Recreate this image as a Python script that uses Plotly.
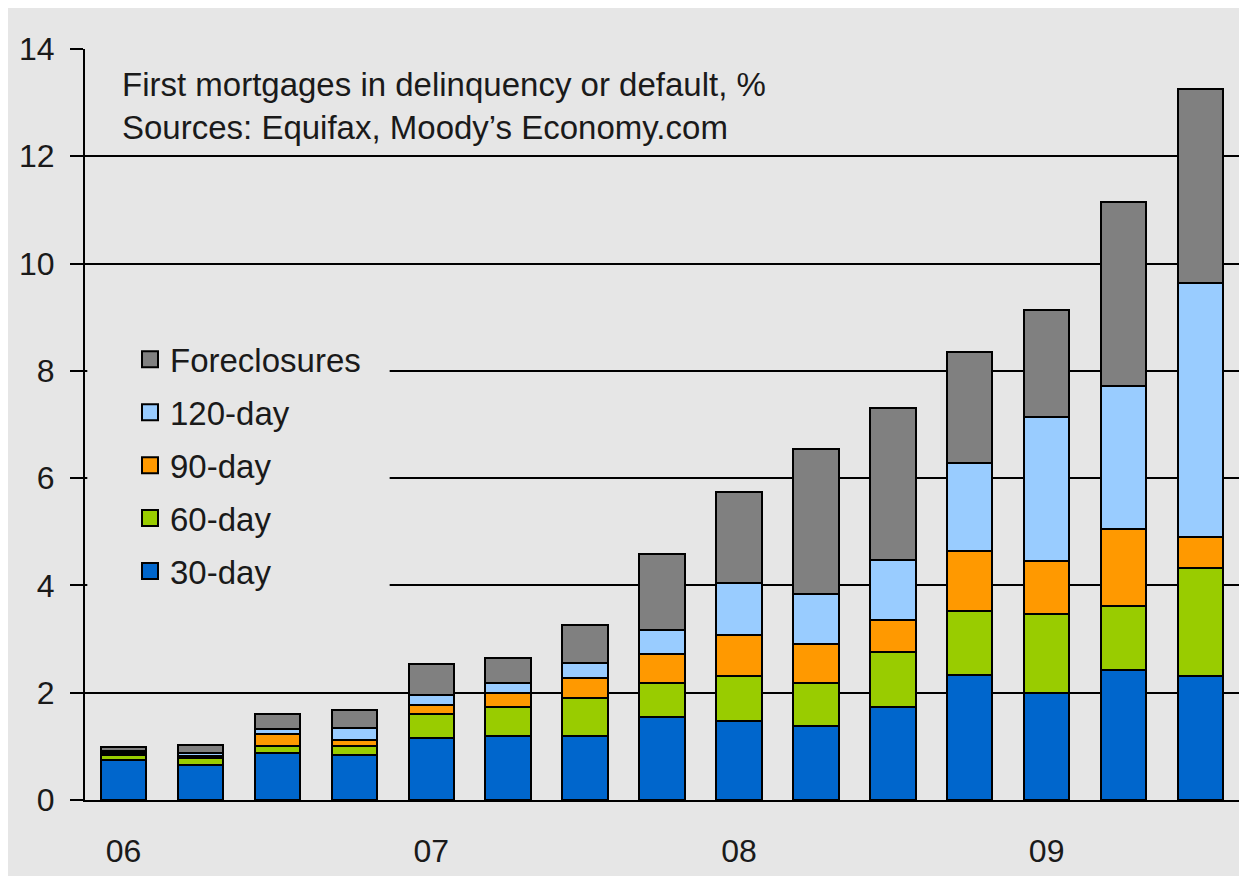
import plotly.graph_objects as go

quarters = ["06Q1", "06Q2", "06Q3", "06Q4", "07Q1", "07Q2", "07Q3", "07Q4",
            "08Q1", "08Q2", "08Q3", "08Q4", "09Q1", "09Q2", "09Q3"]
tick_vals = ["06Q1", "07Q1", "08Q1", "09Q1"]
tick_text = ["06", "07", "08", "09"]

day30 = [0.75, 0.66, 0.88, 0.84, 1.15, 1.19, 1.19, 1.55, 1.47, 1.38, 1.74, 2.33, 2.00, 2.42, 2.31]
day60 = [0.09, 0.13, 0.125, 0.17, 0.45, 0.55, 0.72, 0.635, 0.84, 0.805, 1.02, 1.195, 1.47, 1.20, 2.015]
day90 = [0.04, 0.03, 0.225, 0.10, 0.18, 0.26, 0.37, 0.535, 0.76, 0.715, 0.59, 1.115, 0.99, 1.43, 0.58]
day120 = [0.03, 0.06, 0.09, 0.23, 0.17, 0.185, 0.265, 0.445, 0.98, 0.94, 1.12, 1.64, 2.68, 2.66, 4.725]
foreclosures = [0.08, 0.14, 0.29, 0.33, 0.59, 0.455, 0.715, 1.425, 1.69, 2.71, 2.84, 2.07, 2.00, 3.44, 3.63]

series = [
    ("30-day", day30, "#0066CC"),
    ("60-day", day60, "#99CC00"),
    ("90-day", day90, "#FF9900"),
    ("120-day", day120, "#99CCFF"),
    ("Foreclosures", foreclosures, "#808080"),
]

FONT = "Liberation Sans, Arial, sans-serif"
TXT = "#1a1a1a"
BG = "#e6e6e6"

fig = go.Figure()
for name, vals, col in series:
    fig.add_trace(go.Bar(
        x=quarters, y=vals, name=name, showlegend=False,
        marker=dict(color=col, line=dict(color="black", width=2)),
    ))

# legend entries (top to bottom)
for name, vals, col in reversed(series):
    fig.add_trace(go.Scatter(
        x=[None], y=[None], mode="markers", name=name, legendgroup=name,
        marker=dict(symbol="square", size=16, color=col,
                    line=dict(color="black", width=2)),
        showlegend=True, hoverinfo="skip",
    ))

fig.add_annotation(
    xref="paper", yref="paper", x=0.030, y=0.98, xanchor="left", yanchor="top",
    text="First mortgages in delinquency or default, %<br>Sources: Equifax, Moody\u2019s Economy.com",
    showarrow=False, align="left",
    font=dict(family=FONT, size=33, color=TXT),
)

# background block behind the legend (hides gridlines there)
fig.add_shape(type="rect", xref="paper", yref="paper",
              x0=0.002, x1=0.264, y0=0.268, y1=0.615,
              fillcolor=BG, line=dict(width=0), layer="above")

fig.update_layout(
    width=1231, height=868,
    margin=dict(l=77, r=0, t=41, b=76),
    paper_bgcolor=BG, plot_bgcolor=BG,
    barmode="stack", bargap=0.41,
    font=dict(family=FONT, size=32, color=TXT),
    legend=dict(
        x=0.039, y=0.624, xanchor="left", yanchor="top",
        bgcolor=BG, borderwidth=0, traceorder="grouped", tracegroupgap=7,
        font=dict(family=FONT, size=33, color=TXT),
    ),
    xaxis=dict(
        type="category", categoryorder="array", categoryarray=quarters,
        range=[-0.5, 14.5], tickmode="array", tickvals=tick_vals, ticktext=tick_text,
        showgrid=False, zeroline=False, showline=True, linecolor="black", linewidth=2,
        ticks="", ticklabelstandoff=22,
        tickfont=dict(family=FONT, size=32, color=TXT),
    ),
    yaxis=dict(
        range=[0, 14], dtick=2, tick0=0,
        showgrid=True, gridcolor="black", gridwidth=2,
        zeroline=False, showline=True, linecolor="black", linewidth=2,
        ticks="outside", ticklen=13, tickwidth=2, tickcolor="black",
        ticklabelstandoff=9,
        tickfont=dict(family=FONT, size=32, color=TXT),
    ),
)

fig.write_html("out.html",
               post_script="document.body.style.margin='8px 0 0 8px';"
                           "document.documentElement.style.overflow='hidden';"
                           "document.body.style.overflow='hidden';")
